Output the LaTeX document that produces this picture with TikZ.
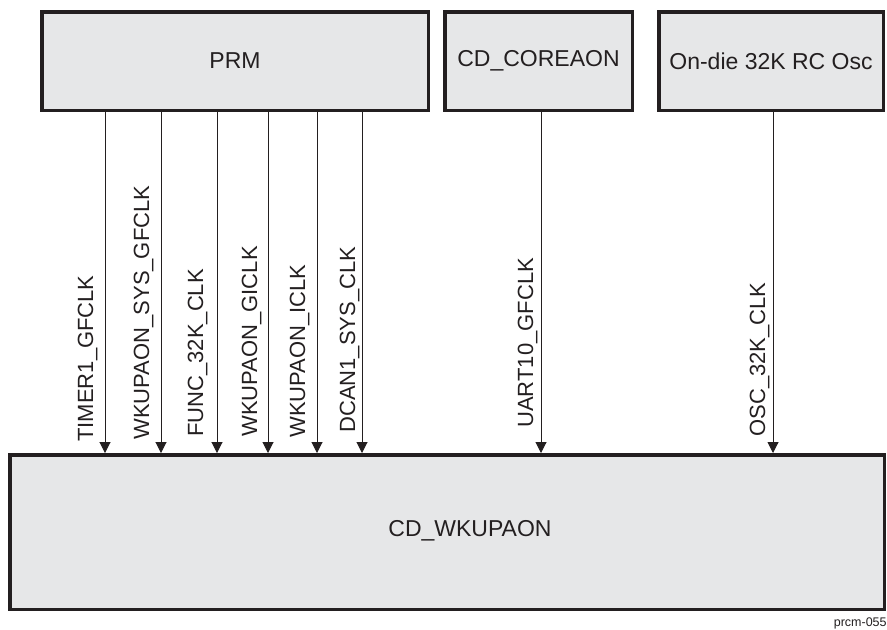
\documentclass[tikz,border=0pt]{standalone}
\usepackage{fontspec}
\setmainfont{Liberation Sans}
\usepackage{xcolor}
\usepackage{tikz}
\usetikzlibrary{arrows.meta, positioning}

\definecolor{boxgray}{HTML}{E6E7E8}
\definecolor{inkblack}{HTML}{231F20}

\begin{document}
\begin{tikzpicture}[
  x=0.5pt, y=-0.5pt,
  every node/.style={font=\fontsize{11.5}{13}\selectfont, text=inkblack},
  block/.style={rectangle, draw=inkblack, line width=1.75pt, fill=boxgray, inner sep=0pt, minimum height=49.25pt},
  sig/.style={font=\fontsize{11}{13}\selectfont, rotate=90, anchor=base west, inner sep=0pt},
  arr/.style={-{Triangle[length=5.5pt, width=5.5pt]}, line width=0.5pt, draw=inkblack}
]
\useasboundingbox (0,0) rectangle (887,629);

% Source blocks
\node[block, minimum width=193.25pt] (prm) at (235,61) {PRM};
\node[block, minimum width=93.75pt] (core) at (538.5,61) {CD\_COREAON};
\node[block, minimum width=112.25pt] (osc) at (771,61) {On-die 32K RC Osc};

% Target domain
\node[block, minimum width=437.25pt, minimum height=77.25pt] (wkup) at (447,532) {};
\node (wkuptxt) at (470,531) {CD\_WKUPAON};

% Clock edges
\foreach \x/\src/\lx/\ly/\txt in {
    105/prm/93/442/TIMER1\_GFCLK,
    161/prm/149/440/WKUPAON\_SYS\_GFCLK,
    217/prm/203/437/FUNC\_32K\_CLK,
    268/prm/257/437/WKUPAON\_GICLK,
    317/prm/305/438/WKUPAON\_ICLK,
    362/prm/355/433/DCAN1\_SYS\_CLK,
    541/core/533/428/UART10\_GFCLK,
    773/osc/765/437/OSC\_32K\_CLK} {
  \coordinate (c\x) at (\x,0);
  \draw[arr] (\src.south -| c\x) -- (wkup.north -| c\x);
  \node[sig] (lbl\x) at (\lx,\ly) {\txt};
}

\node[font=\fontsize{6.25}{7}\selectfont, anchor=base east, inner sep=0pt] (figid) at (887,626) {prcm-055};

\end{tikzpicture}
\end{document}
